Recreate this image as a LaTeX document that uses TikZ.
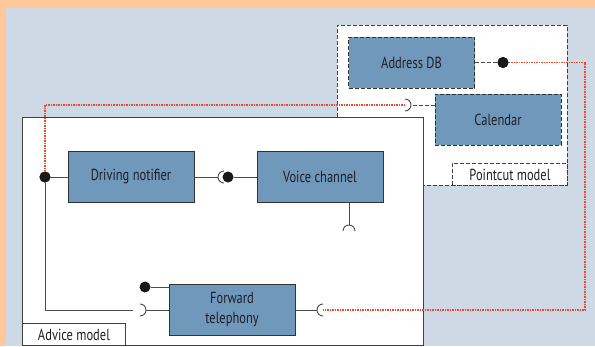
\documentclass[tikz,border=0pt]{standalone}
\usepackage{fontspec}
\setmainfont{PT Sans}[FakeStretch=0.78]
\definecolor{band}{RGB}{255,200,152}
\definecolor{paper}{RGB}{207,217,229}
\definecolor{steel}{RGB}{112,152,186}
\definecolor{ink}{RGB}{30,30,38}
\definecolor{weavered}{RGB}{232,72,44}

\begin{document}
\begin{tikzpicture}[x=1pt, y=-1pt, font=\fontsize{16}{17}\selectfont]
    \tikzstyle{comp} = [draw=black!80, line width=1pt, fill=steel, minimum width=126pt, minimum height=51pt, inner sep=0pt, text=ink]
    \tikzstyle{aspect} = [comp, dash pattern=on 4pt off 2pt]
    \tikzstyle{frame} = [draw=black!75, line width=0.9pt, fill=white, inner sep=0pt, anchor=north west]
    \tikzstyle{tag} = [draw=black!75, line width=0.9pt, fill=white, minimum height=22pt, inner sep=0pt, text=ink]
    \tikzstyle{wire} = [black!70, line width=0.9pt]
    \tikzstyle{weave} = [weavered, line width=1.2pt, dash pattern=on 1.5pt off 1pt]
    \tikzstyle{ball} = [circle, fill=black!90, minimum size=11pt, inner sep=0pt]

    % background
    \fill[band] (0,0) rectangle (595,346);
    \fill[paper] (6,8) rectangle (595,346);

    % pointcut model
    \node[frame, dash pattern=on 4pt off 2pt, minimum width=230pt, minimum height=160pt] (pointcut) at (337,25) {};
    \node[tag, dash pattern=on 4pt off 2pt, anchor=south east, minimum width=115pt] (pctag) at (pointcut.south east) {Pointcut model};
    \node[aspect] (addr) at (411.5,62.5) {Address DB};
    \node[aspect] (cal) at (498,119.5) {Calendar};

    % advice model
    \node[frame, minimum width=401pt, minimum height=228pt] (advice) at (22,117) {};
    \node[tag, anchor=south west, minimum width=103pt] (adtag) at (advice.south west) {Advice model};
    \node[comp] (drive) at (131,177) {Driving notifier};
    \node[comp] (voice) at (320,177) {Voice channel};
    \node[comp, align=center, font=\fontsize{16}{20}\selectfont] (fwd) at (232,310) {Forward\\telephony};

    % provided interfaces
    \node[ball] (addrball) at (503,62.5) {};
    \node[ball] (driveball) at (45,177) {};
    \node[ball] (voiceball) at (228,177) {};
    \node[ball] (fwdball) at (145,287) {};

    % required interfaces: tip and mouth of each socket
    \coordinate (caltip) at (411,105);    \coordinate (calmouth) at (405,105);
    \coordinate (drivetip) at (218,177);
    \coordinate (voicetip) at (349,225);
    \coordinate (fwdtipL) at (146,310);   \coordinate (fwdmouthL) at (140,310);
    \coordinate (fwdtipR) at (317,310);   \coordinate (fwdmouthR) at (323,310);
    \coordinate (fwdend) at (133,310);
    \coordinate (turn) at (585,62.5);

    \draw[wire] (caltip) ++(-6,-6) arc[start angle=-90, end angle=90, radius=6];
    \draw[wire] (fwdtipL) ++(-6,-6) arc[start angle=-90, end angle=90, radius=6];
    \draw[wire] (fwdtipR) ++(6,-6) arc[start angle=-90, end angle=-270, radius=6];
    \draw[wire] (drivetip) ++(6,-6) arc[start angle=-90, end angle=-270, radius=6];
    \draw[wire] (voicetip) ++(-6,6) arc[start angle=180, end angle=360, radius=6];

    % connectors
    \draw[wire, dash pattern=on 4pt off 2pt] (addr.east) -- (addrball);
    \draw[wire, dash pattern=on 4pt off 2pt] (cal.west |- caltip) -- (caltip);
    \foreach \from/\to in {driveball/drive.west, drive.east/drivetip, voiceball/voice.west, fwdball/fwd.west |- fwdball, fwdtipL/fwd.west |- fwdtipL, fwd.east |- fwdtipR/fwdtipR}
    \draw[wire] (\from) -- (\to);
    \draw[wire] (voice.south -| voicetip) -- (voicetip);
    \draw[wire] (driveball) -- (driveball |- fwdend) -- (fwdend);

    % weaving
    \draw[weave] (calmouth) -- (driveball |- calmouth) -- (driveball);
    \draw[weave] (addrball) -- (turn) -- (turn |- fwdmouthR) -- (fwdmouthR);
    \node[ball] at (driveball) {};
    \node[ball] at (addrball) {};
\end{tikzpicture}
\end{document}
